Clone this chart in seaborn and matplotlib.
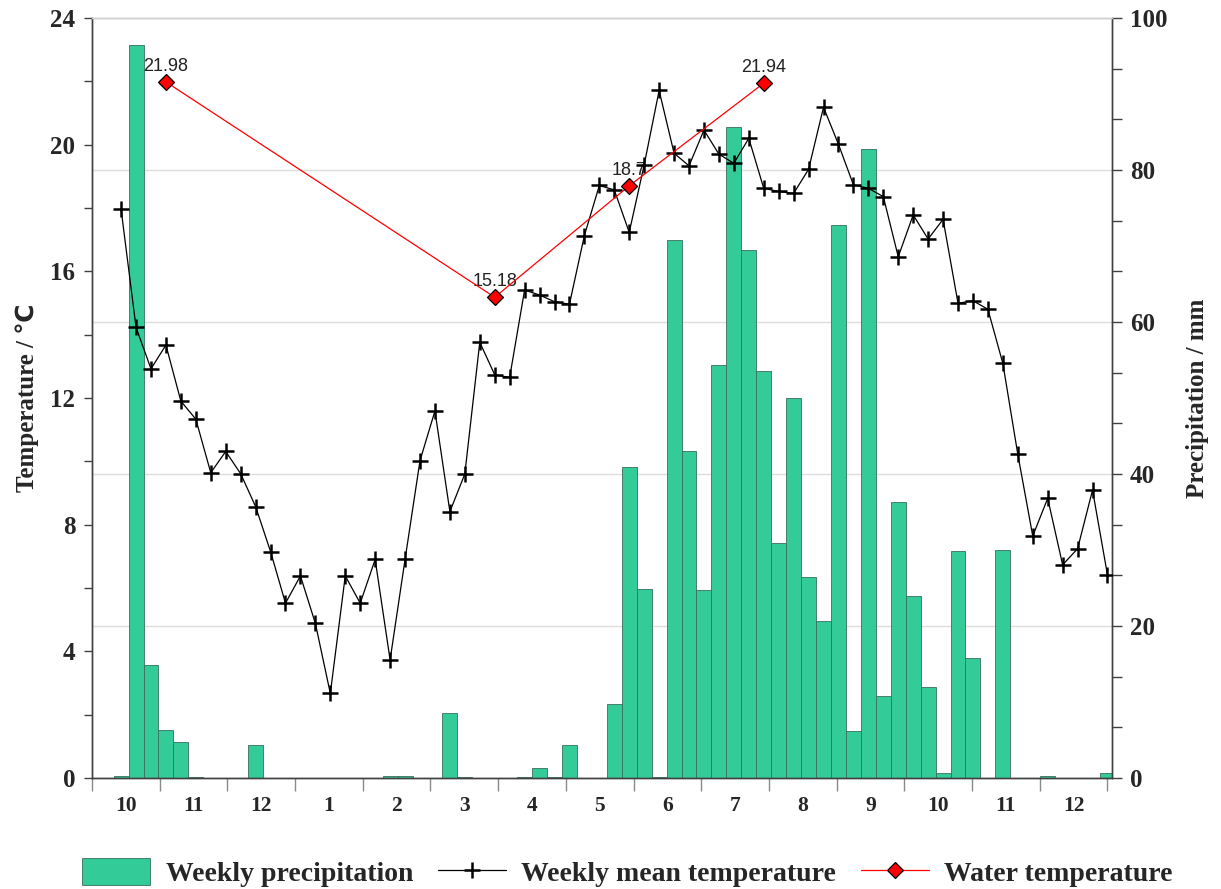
import matplotlib
matplotlib.use('Agg')
import matplotlib.pyplot as plt
import seaborn as sns
import numpy as np
import pandas as pd
from matplotlib.ticker import FixedLocator, MultipleLocator, NullFormatter, FixedFormatter
from matplotlib.patches import Patch
from matplotlib.lines import Line2D

sns.set_style('white')
plt.rcParams['font.family'] = ['Liberation Serif', 'DejaVu Sans']
plt.rcParams['font.weight'] = 'bold'
plt.rcParams['axes.labelweight'] = 'bold'

# Weekly precipitation (mm), Oct -> Dec of the following year
precip = [0.3, 96.5, 14.9, 6.3, 4.7, 0.1, 0, 0, 0, 4.4,
          0, 0, 0, 0, 0, 0, 0, 0, 0.3, 0.2,
          0, 0, 8.6, 0.15, 0, 0, 0, 0.15, 1.3, 0.15,
          4.4, 0, 0, 9.7, 40.9, 24.9, 0.15, 70.8, 43.0, 24.7,
          54.3, 85.7, 69.5, 53.6, 30.9, 50.0, 26.5, 20.7, 72.8, 6.2,
          82.8, 10.8, 36.3, 24.0, 12.0, 0.6, 29.9, 15.8, 0, 30.0,
          0, 0, 0.2, 0, 0, 0, 0.6]

# Weekly mean air temperature (°C)
temp_mean = [17.96, 14.23, 12.92, 13.67, 11.9, 11.33, 9.64, 10.31, 9.61, 8.57,
             7.15, 5.52, 6.38, 4.88, 2.67, 6.38, 5.52, 6.9, 3.73, 6.9,
             10.02, 11.59, 8.41, 9.6, 13.76, 12.73, 12.65, 15.41, 15.25, 15.04,
             14.96, 17.13, 18.71, 18.57, 17.23, 19.36, 21.71, 19.73, 19.33, 20.46,
             19.7, 19.41, 20.2, 18.62, 18.52, 18.46, 19.22, 21.18, 20.01, 18.73,
             18.62, 18.36, 16.46, 17.78, 17.02, 17.64, 14.99, 15.07, 14.8, 13.09,
             10.22, 7.64, 8.83, 6.73, 7.24, 9.09, 6.41]

# Water temperature samples (week index, °C)
water_week = [3, 25, 34, 43]
water_temp = [21.98, 15.18, 18.7, 21.94]

month_labels = ['10', '11', '12', '1', '2', '3', '4', '5', '6', '7', '8', '9', '10', '11', '12']

weeks = np.arange(len(precip))
df = pd.DataFrame({'week': weeks, 'precip': precip, 'temp': temp_mean})
df_water = pd.DataFrame({'week': water_week, 'temp': water_temp})

fig = plt.figure(figsize=(12.21, 8.89), dpi=100)
ax_p = fig.add_axes([0.0753, 0.1249, 0.8354, 0.8549])
ax_t = ax_p.twinx()

bar_color = '#33CC99'
bar_edge = '#3b6e5b'

# precipitation bars (drawn underneath)
sns.barplot(data=df, x='week', y='precip', ax=ax_p, color=bar_color, saturation=1,
            width=1.0, edgecolor=bar_edge, linewidth=0.6, orient='x', errorbar=None)

# temperature lines on the twin axis
sns.lineplot(data=df, x='week', y='temp', ax=ax_t, color='black', lw=0.9,
             marker='+', markersize=12, markeredgewidth=1.8, markeredgecolor='black', zorder=3)
sns.lineplot(data=df_water, x='week', y='temp', ax=ax_t, color='red', lw=0.9,
             marker='D', markersize=8.5, markerfacecolor='red', markeredgecolor='black',
             markeredgewidth=0.9, zorder=4)

for w, v in zip(water_week, water_temp):
    ax_t.annotate(str(v), (w, v), xytext=(0, 5), textcoords='offset points',
                  ha='center', va='bottom', fontsize=13, fontweight='normal',
                  family='Liberation Sans', color='#222222', zorder=2)

# put precipitation axis on the right, temperature on the left
ax_p.yaxis.tick_right()
ax_p.yaxis.set_label_position('right')
ax_t.yaxis.tick_left()
ax_t.yaxis.set_label_position('left')

ax_p.set_ylim(0, 100)
ax_t.set_ylim(0, 24)

ax_p.yaxis.set_major_locator(MultipleLocator(20))
ax_p.yaxis.set_minor_locator(FixedLocator(np.arange(0, 100.1, 20 / 3)))
ax_t.yaxis.set_major_locator(MultipleLocator(4))
ax_t.yaxis.set_minor_locator(MultipleLocator(2))

ax_p.grid(False)
ax_t.grid(False)
ax_p.yaxis.grid(True, color='#dcdcdc', lw=1)

# month axis
month_len = 4.53
first_edge = -1.95
edges = first_edge + month_len * np.arange(len(month_labels) + 1)
centers = edges[:-1] + month_len / 2
ax_p.xaxis.set_major_locator(FixedLocator(edges))
ax_p.xaxis.set_major_formatter(NullFormatter())
ax_p.xaxis.set_minor_locator(FixedLocator(centers))
ax_p.xaxis.set_minor_formatter(FixedFormatter(month_labels))
ax_p.set_xlim(first_edge, 66.3)

ax_p.tick_params(axis='x', which='major', direction='out', length=9, width=1, color='#8a8a8a', bottom=True)
ax_p.tick_params(axis='x', which='minor', length=0, pad=13, labelsize=15.5, bottom=True)
ax_p.tick_params(axis='y', which='both', direction='out', length=7, width=1, color='#404040',
                 labelsize=18, right=True, left=False, pad=6)
ax_t.tick_params(axis='y', which='both', direction='out', length=6, width=1, color='#404040',
                 labelsize=18, left=True, right=False, pad=6)

ax_p.set_xlabel('')
ax_t.set_xlabel('')
ax_t.set_ylabel('Temperature / ℃', fontsize=18, labelpad=8)
ax_p.set_ylabel('Precipitation / mm', fontsize=18, labelpad=13)

for a in (ax_p, ax_t):
    for side in ('left', 'right', 'bottom'):
        a.spines[side].set_color('#404040')
        a.spines[side].set_linewidth(1)
    a.spines['top'].set_color('#d0d0d0')
    a.spines['top'].set_linewidth(1)

handles = [
    Patch(facecolor=bar_color, edgecolor=bar_edge, linewidth=0.6),
    Line2D([], [], color='black', lw=0.9, marker='+', markersize=12, markeredgewidth=1.8),
    Line2D([], [], color='red', lw=0.9, marker='D', markersize=8.5, markerfacecolor='red',
           markeredgecolor='black', markeredgewidth=0.9),
]
fig.legend(handles, ['Weekly precipitation', 'Weekly mean temperature', 'Water temperature'],
           loc='lower center', bbox_to_anchor=(0.514, -0.026), ncol=3, frameon=False,
           fontsize=20, handlelength=2.45, handleheight=1.1, handletextpad=0.55, columnspacing=0.9)

fig.savefig('out.png', dpi=100)
